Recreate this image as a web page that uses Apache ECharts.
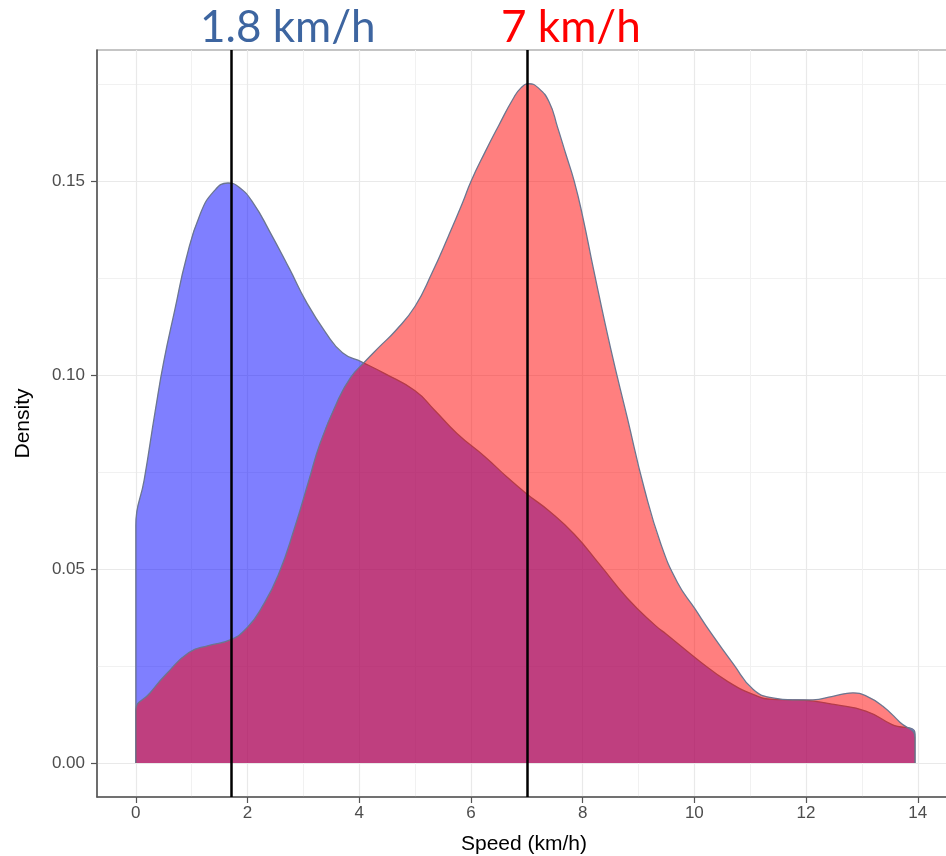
<!DOCTYPE html>
<html>
<head>
<meta charset="utf-8">
<script src="https://cdn.jsdelivr.net/npm/echarts@6/dist/echarts.min.js"></script>
<style>
html,body{margin:0;padding:0;background:#fff;}
#chart{width:946px;height:856px;}
</style>
</head>
<body>
<div id="chart"></div>
<script>
// ---- data ----
var blueX = [0, 0, 0.15, 0.35, 0.5, 0.7, 0.9, 1.15, 1.4, 1.65, 1.85, 2.1, 2.4, 2.75, 3.05, 3.4, 3.7, 4.05, 4.45, 5.0, 5.35, 5.75, 6.25, 6.65, 7.0, 7.4, 7.85, 8.3, 8.8, 9.3, 9.5, 10.1, 10.6, 11.05, 11.4, 11.75, 12.1, 12.5, 13.07, 13.54, 13.95, 13.95];
var blueY = [0, 0.0612, 0.073, 0.091, 0.1035, 0.117, 0.130, 0.1415, 0.1475, 0.1496, 0.1485, 0.1445, 0.137, 0.1275, 0.119, 0.111, 0.1058, 0.1034, 0.1005, 0.096, 0.091, 0.085, 0.079, 0.0737, 0.0694, 0.065, 0.059, 0.0513, 0.0425, 0.0355, 0.0332, 0.0262, 0.021, 0.0177, 0.0164, 0.0163, 0.016, 0.0151, 0.0134, 0.0099, 0.0076, 0];
var redX = [0, 0, 0.25, 0.55, 0.95, 1.3, 1.7, 2.0, 2.25, 2.55, 2.85, 3.1, 3.3, 3.6, 3.85, 4.1, 4.35, 4.65, 5.0, 5.3, 5.6, 5.85, 6.0, 6.25, 6.5, 6.75, 6.9, 7.04, 7.2, 7.4, 7.55, 7.7, 7.85, 8.0, 8.2, 8.5, 8.8, 9.1, 9.4, 9.7, 10.0, 10.3, 10.7, 11.05, 11.4, 11.76, 12.12, 12.48, 12.84, 13.09, 13.37, 13.68, 13.95, 13.95];
var redY = [0, 0.0135, 0.018, 0.023, 0.0285, 0.0303, 0.0318, 0.035, 0.040, 0.0485, 0.061, 0.073, 0.0825, 0.093, 0.0995, 0.1035, 0.1072, 0.1115, 0.1178, 0.1263, 0.136, 0.1445, 0.150, 0.1575, 0.1645, 0.1712, 0.1742, 0.1752, 0.1742, 0.1705, 0.164, 0.157, 0.150, 0.141, 0.127, 0.107, 0.089, 0.071, 0.0565, 0.0465, 0.040, 0.0335, 0.0255, 0.019, 0.0168, 0.0163, 0.0163, 0.0172, 0.0181, 0.0172, 0.0147, 0.0105, 0.0066, 0];
var markerX = [1.7, 7.0];
var markerLabels = ['1.8 km/h', '7 km/h'];
var xTicks = [0, 2, 4, 6, 8, 10, 12, 14];
var xMinor = [1, 3, 5, 7, 9, 11, 13];
var yTicks = [0, 0.05, 0.10, 0.15];
var yMinor = [0.025, 0.075, 0.125, 0.175];
var xRange = [-0.695, 14.595];
var yRange = [-0.00877, 0.1839];

function pairs(xs, ys) { return xs.map(function (x, i) { return [x, ys[i]]; }); }

var chart = echarts.init(document.getElementById('chart'), null, {renderer: 'canvas'});
var outline = '#6b7690';
var option = {
  backgroundColor: '#ffffff',
  animation: false,
  title: [
    {text: markerLabels[0], left: 200, top: 6, padding: 0,
     textStyle: {fontFamily: 'Lato', fontSize: 44, fontWeight: 'normal', color: '#3d65a0'}},
    {text: markerLabels[1], left: 501, top: 6, padding: 0,
     textStyle: {fontFamily: 'Lato', fontSize: 44, fontWeight: 'normal', color: '#ff0000'}}
  ],
  grid: {left: 97, top: 50, width: 854, height: 747, show: true, outerBoundsMode: 'none',
         borderColor: '#8c8c8c', borderWidth: 1.2, backgroundColor: '#ffffff', containLabel: false},
  xAxis: [
    {type: 'value', min: xRange[0], max: xRange[1], position: 'bottom',
     name: 'Speed (km/h)', nameLocation: 'middle', nameGap: 37,
     nameTextStyle: {fontFamily: 'Liberation Sans', fontSize: 21, color: '#000'},
     axisLine: {show: true, onZero: false, lineStyle: {color: '#555', width: 1.5}},
     axisTick: {show: true, length: 6, customValues: xTicks, lineStyle: {color: '#555', width: 1.2}},
     axisLabel: {customValues: xTicks, fontFamily: 'Liberation Sans', fontSize: 17, color: '#4d4d4d', margin: 8},
     splitLine: {show: true, lineStyle: {color: '#e9e9e9', width: 1.2}}},
    {type: 'value', min: xRange[0], max: xRange[1], position: 'bottom',
     axisLine: {show: false}, axisTick: {show: false, customValues: xMinor},
     axisLabel: {show: false, customValues: xMinor},
     splitLine: {show: true, lineStyle: {color: '#f1f1f1', width: 1}}}
  ],
  yAxis: [
    {type: 'value', min: yRange[0], max: yRange[1], position: 'left',
     name: 'Density', nameLocation: 'middle', nameGap: 63, nameRotate: 90,
     nameTextStyle: {fontFamily: 'Liberation Sans', fontSize: 21, color: '#000'},
     axisLine: {show: true, onZero: false, lineStyle: {color: '#555', width: 1.5}},
     axisTick: {show: true, length: 6, customValues: yTicks, lineStyle: {color: '#555', width: 1.2}},
     axisLabel: {customValues: yTicks, fontFamily: 'Liberation Sans', fontSize: 17, color: '#4d4d4d', margin: 12,
                 formatter: function (v) { return v.toFixed(2); }},
     splitLine: {show: true, lineStyle: {color: '#e9e9e9', width: 1.2}}},
    {type: 'value', min: yRange[0], max: yRange[1], position: 'left',
     axisLine: {show: false}, axisTick: {show: false, customValues: yMinor},
     axisLabel: {show: false, customValues: yMinor},
     splitLine: {show: true, lineStyle: {color: '#f1f1f1', width: 1}}}
  ],
  series: [
    {type: 'line', name: 'slow', xAxisIndex: 0, yAxisIndex: 0, data: pairs(blueX, blueY),
     showSymbol: false, symbol: 'none', smooth: 0.5, z: 2,
     lineStyle: {color: outline, width: 1.3},
     areaStyle: {color: '#0000ff', opacity: 0.5, origin: 0}},
    {type: 'line', name: 'fast', xAxisIndex: 0, yAxisIndex: 0, data: pairs(redX, redY),
     showSymbol: false, symbol: 'none', smooth: 0.5, z: 3,
     lineStyle: {color: outline, width: 1.3},
     areaStyle: {color: '#ff0000', opacity: 0.5, origin: 0}},
    {type: 'line', name: 'markers', xAxisIndex: 0, yAxisIndex: 0, data: [], z: 5,
     markLine: {silent: true, symbol: ['none', 'none'], label: {show: false},
       lineStyle: {color: '#000', width: 2.5, type: 'solid'},
       data: markerX.map(function (v) { return {xAxis: v}; })}}
  ]
};
chart.setOption(option);
</script>
</body>
</html>
